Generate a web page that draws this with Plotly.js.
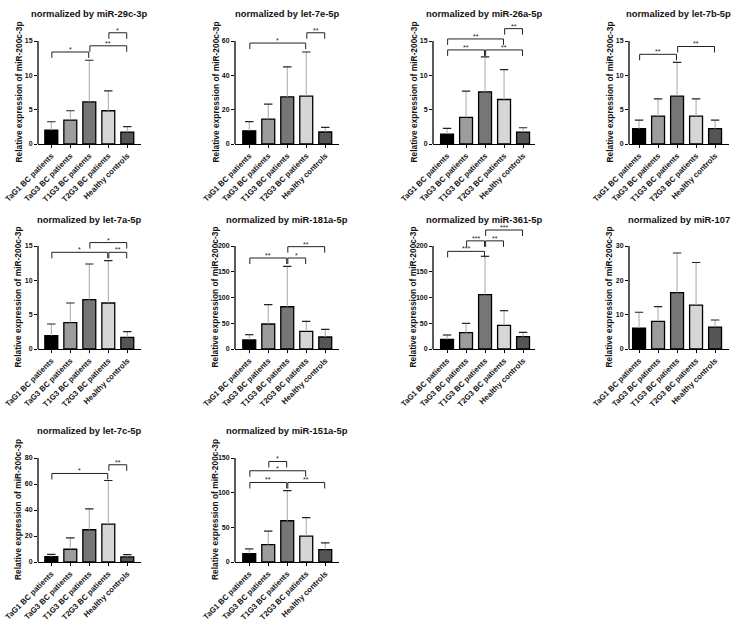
<!DOCTYPE html>
<html><head><meta charset="utf-8">
<script src="https://cdn.plot.ly/plotly-3.0.1.min.js"></script>
<style>html,body{margin:0;padding:0;background:#fff}#chart{width:737px;height:628px}</style>
</head><body><div id="chart"></div>
<script>
// ---------- data ----------
const categories = ['TaG1 BC patients','TaG3 BC patients','T1G3 BC patients','T2G3 BC patients','Healthy controls'];
const panelTitles = ['normalized by miR-29c-3p','normalized by let-7e-5p','normalized by miR-26a-5p','normalized by let-7b-5p',
  'normalized by let-7a-5p','normalized by miR-181a-5p','normalized by miR-361-5p','normalized by miR-107',
  'normalized by let-7c-5p','normalized by miR-151a-5p'];
const yAxisTitle = 'Relative expression of miR-200c-3p';
const yMaxTicks = [15,60,15,15,15,200,200,30,80,150];
const yTickSteps = [5,20,5,5,5,50,50,10,20,50];

const mean_miR29c = [2.0,3.48,6.14,4.84,1.74];     const sd_miR29c = [1.24,1.36,6.06,2.9,0.78];
const mean_let7e = [7.7,14.5,27.5,27.9,7.0];       const sd_let7e = [5.3,8.7,17.4,25.7,2.7];
const mean_miR26a = [1.45,3.87,7.6,6.48,1.74];     const sd_miR26a = [0.82,3.83,5.08,4.36,0.63];
const mean_let7b = [2.23,4.06,6.97,4.06,2.23];     const sd_let7b = [1.25,2.52,4.93,2.52,1.25];
const mean_let7a = [1.94,3.83,7.18,6.7,1.7];       const sd_let7a = [1.7,2.87,5.2,6.16,0.82];
const mean_miR181a = [17.5,48.5,82,34.3,23.3];     const sd_miR181a = [10.3,37.5,78.5,19.4,14.9];
const mean_miR361 = [18.8,31.7,105.5,46,24];       const sd_miR361 = [8.4,18.1,74.5,28.4,8.4];
const mean_miR107 = [6.1,8.06,16.4,12.8,6.4];      const sd_miR107 = [4.6,4.27,11.56,12.4,2.05];
const mean_let7c = [4.1,9.8,24.8,29.2,3.9];        const sd_let7c = [1.8,8.8,16.0,33.5,1.8];
const mean_miR151a = [12.1,25.2,59.5,37.3,17.9];   const sd_miR151a = [6.8,19.3,43.5,26.6,9.7];

// significance brackets: [from index, to index, level, label]
const sig_miR29c = [[0,2,13.4,'*'],[2,4,14.3,'**'],[3,4,16.2,'*']];
const sig_let7e = [[0,3,58.8,'*'],[3,4,64.8,'**']];
const sig_miR26a = [[0,2,13.7,'**'],[2,4,13.7,'**'],[0,3,15.3,'**'],[3,4,16.8,'**']];
const sig_let7b = [[0,2,13.06,'**'],[2,4,14.2,'**']];
const sig_let7a = [[0,3,14.08,'*'],[3,4,14.08,'**'],[2,4,15.5,'*']];
const sig_miR181a = [[0,2,176.7,'**'],[2,3,176.7,'*'],[2,4,198.7,'**']];
const sig_miR361 = [[0,2,189.6,'***'],[1,2,210,'***'],[2,3,210,'**'],[2,4,231,'***']];
const sig_miR107 = [];
const sig_let7c = [[0,3,68.1,'*'],[3,4,74.8,'**']];
const sig_miR151a = [[0,2,114.7,'**'],[2,4,114.7,'**'],[0,3,131.6,'*'],[1,2,145,'*']];

const means = [mean_miR29c,mean_let7e,mean_miR26a,mean_let7b,mean_let7a,mean_miR181a,mean_miR361,mean_miR107,mean_let7c,mean_miR151a];
const sds = [sd_miR29c,sd_let7e,sd_miR26a,sd_let7b,sd_let7a,sd_miR181a,sd_miR361,sd_miR107,sd_let7c,sd_miR151a];
const sigs = [sig_miR29c,sig_let7e,sig_miR26a,sig_let7b,sig_let7a,sig_miR181a,sig_miR361,sig_miR107,sig_let7c,sig_miR151a];

// ---------- styling / geometry ----------
const barColors = ['#000000','#9c9c9c','#767676','#d6d6d6','#555555'];
const W = 737, H = 628;
const colAxisX = [38, 235, 433, 629];
const colRanges = [[-0.7, 4.7], [-0.75, 4.7], [-0.74, 4.65], [-0.53, 4.72]];
const pxPerCat = 19;
const rowZero = [144, 349, 562];
const rowMaxTick = [41, 246, 458];
const rowTop = [20, 224, 436];
const rowTitleY = [14, 219, 430];
const font = 'Liberation Sans, Arial, sans-serif';

const traces = [], shapes = [], annotations = [];
const layout = {width: W, height: H, margin: {l:0,r:0,t:0,b:0}, showlegend: false,
  paper_bgcolor: '#fff', plot_bgcolor: 'rgba(0,0,0,0)', font: {family: font, color: '#111'}};

means.forEach((m, i) => {
  const row = Math.floor(i / 4), col = i % 4;
  const n = i + 1, xa = 'x' + n, ya = 'y' + n;
  const xs = categories.map((c, k) => k);
  const maxT = yMaxTicks[i];
  const pxPerUnit = (rowZero[row] - rowMaxTick[row]) / maxT;
  const rangeTop = (rowZero[row] - rowTop[row]) / pxPerUnit;
  const tickvals = [];
  for (let v = 0; v <= maxT + 1e-9; v += yTickSteps[i]) tickvals.push(v);
  const xr = colRanges[col];

  traces.push({type: 'bar', x: xs, y: m, xaxis: xa, yaxis: ya, width: 0.68,
    marker: {color: barColors, line: {color: '#000', width: 1.3}},
    error_y: {type: 'data', symmetric: false, array: sds[i], arrayminus: m.map(() => 0),
      color: '#a8a8a8', thickness: 1, width: 0},
    hoverinfo: 'skip'});
  traces.push({type: 'scatter', mode: 'markers', x: xs, y: m.map((v, k) => v + sds[i][k]),
    xaxis: xa, yaxis: ya, marker: {symbol: 'line-ew', size: 6, line: {color: '#222', width: 1.2}},
    hoverinfo: 'skip'});

  const x0 = colAxisX[col] / W, x1 = (colAxisX[col] + (xr[1] - xr[0]) * pxPerCat) / W;
  layout['xaxis' + n] = {domain: [x0, x1], anchor: ya, range: xr, tickvals: xs, ticktext: categories,
    tickangle: -45, tickfont: {size: 7.8, weight: 'bold', family: font, color: '#111'},
    showline: true, linecolor: '#000', linewidth: 1.3, ticks: 'outside', ticklen: 3, tickwidth: 1,
    tickcolor: '#000', showgrid: false, zeroline: false, fixedrange: true};
  layout['yaxis' + n] = {domain: [1 - rowZero[row] / H, 1 - rowTop[row] / H], anchor: xa,
    range: [0, rangeTop], tickvals: tickvals, ticktext: tickvals.map(String),
    tickfont: {size: 7, weight: 'bold', family: font, color: '#111'},
    showline: false, ticks: 'outside', ticklen: 3, tickwidth: 1, tickcolor: '#000',
    showgrid: false, zeroline: false, fixedrange: true};

  // y axis line from 0 to max tick
  shapes.push({type: 'line', xref: xa + ' domain', x0: 0, x1: 0, yref: ya, y0: 0, y1: maxT,
    line: {color: '#000', width: 1.3}});

  // title
  annotations.push({xref: xa + ' domain', x: 0.5, yref: 'paper', y: 1 - rowTitleY[row] / H,
    text: '<b>' + panelTitles[i] + '</b>', showarrow: false, xanchor: 'center', yanchor: 'middle',
    font: {size: 9.4, family: font, color: '#111'}});
  // y title
  annotations.push({xref: xa + ' domain', x: 0, xshift: -20, yref: ya, y: maxT / 2,
    text: '<b>' + yAxisTitle + '</b>', textangle: -90, showarrow: false, xanchor: 'center', yanchor: 'middle',
    font: {size: 8.4, family: font, color: '#111'}});

  // significance brackets
  const leg = 6 / pxPerUnit;
  sigs[i].forEach(s => {
    const [a, b, lv, lab] = s;
    const xa0 = a + 0.03, xb = b - 0.03;
    shapes.push({type: 'path', xref: xa, yref: ya,
      path: `M ${xa0},${lv - leg} L ${xa0},${lv} L ${xb},${lv} L ${xb},${lv - leg}`,
      line: {color: '#222', width: 1}});
    annotations.push({xref: xa, yref: ya, x: (a + b) / 2, y: lv, yanchor: 'bottom', yshift: -3,
      text: lab, showarrow: false, font: {size: 7, family: font, color: '#222'}});
  });
});

layout.shapes = shapes;
layout.annotations = annotations;
Plotly.newPlot('chart', traces, layout, {staticPlot: true, displayModeBar: false});
</script>
</body></html>
